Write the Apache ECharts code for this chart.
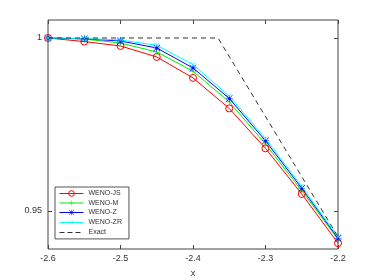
<!DOCTYPE html>
<html><head><meta charset="utf-8">
<script src="https://cdn.jsdelivr.net/npm/echarts@6/dist/echarts.min.js"></script>
<style>html,body{margin:0;padding:0;background:#fff}#c{width:374px;height:280px}</style>
</head><body><div id="c"></div>
<script>
const xs = [-2.6, -2.55, -2.5, -2.45, -2.4, -2.35, -2.3, -2.25, -2.2];
const wenoJS = [1.0, 0.99896, 0.99769, 0.99452, 0.98846, 0.97963, 0.96809, 0.9549, 0.94068];
const wenoM  = [1.0, 0.99968, 0.99856, 0.99596, 0.99039, 0.98153, 0.96933, 0.95586, 0.94178];
const wenoZ  = [1.0, 0.99977, 0.99913, 0.99711, 0.99134, 0.98252, 0.97028, 0.95655, 0.94212];
const wenoZR = [1.0, 0.99986, 0.99942, 0.99789, 0.99233, 0.98318, 0.97092, 0.95707, 0.9425];
const exactX = [-2.6, -2.3655, -2.2];
const exactY = [1.0, 1.0, 0.94258];
const xTicks = [-2.6, -2.5, -2.4, -2.3, -2.2];
const yTicks = [0.95, 1];

const pair = (a, b) => a.map((v, i) => [v, b[i]]);
const plusPath = 'path://M4.6,0H5.4V4.6H10V5.4H5.4V10H4.6V5.4H0V4.6H4.6Z';
const starPath = 'path://M4.6,0H5.4V4.6H10V5.4H5.4V10H4.6V5.4H0V4.6H4.6Z M0.6,0L10,9.4L9.4,10L0,0.6Z M9.4,0L10,0.6L0.6,10L0,9.4Z M3,3H7V7H3Z';
const dashIcon = 'path://M0,0H0.01V7H0Z M0,3H5V4H0Z M8,3H13V4H8Z M16,3H21V4H16Z M24,0H24.01V7H24Z';
const frame = '#444';
const txt = '#333';
const font = 'Liberation Sans, Arial, sans-serif';

const chart = echarts.init(document.getElementById('c'), null, {renderer: 'canvas'});
chart.setOption({
  animation: false,
  backgroundColor: '#fff',
  grid: {left: 48, right: 36, top: 20, bottom: 31, show: true, borderColor: frame, borderWidth: 1,
         backgroundColor: 'transparent', outerBoundsMode: 'none', containLabel: false},
  legend: {
    orient: 'vertical', left: 55, top: 187,
    itemWidth: 24, itemHeight: 7, itemGap: 2.5,
    padding: [3, 7, 3, 4],
    backgroundColor: '#fff', borderColor: '#555', borderWidth: 1, borderRadius: 0,
    lineStyle: {width: 1},
    itemStyle: {borderWidth: 1},
    textStyle: {fontSize: 7, color: txt, fontFamily: font},
    data: ['WENO-JS', 'WENO-M', 'WENO-Z', 'WENO-ZR', {name: 'Exact', icon: dashIcon, itemStyle: {color: '#333', borderWidth: 0}}]
  },
  xAxis: [{
    type: 'value', min: -2.6, max: -2.2, interval: 0.1, position: 'bottom',
    name: 'x', nameLocation: 'middle', nameGap: 20,
    nameTextStyle: {fontSize: 9, color: txt, fontFamily: font},
    axisLine: {show: false}, splitLine: {show: false},
    axisTick: {inside: true, length: 4, lineStyle: {color: frame}, customValues: xTicks},
    axisLabel: {fontSize: 9, color: txt, fontFamily: font, margin: 5, customValues: xTicks, formatter: v => v.toFixed(1)}
  }, {
    type: 'value', min: -2.6, max: -2.2, interval: 0.1, position: 'top',
    axisLine: {show: false}, splitLine: {show: false},
    axisTick: {inside: true, length: 4, lineStyle: {color: frame}, customValues: xTicks},
    axisLabel: {show: false}
  }],
  yAxis: [{
    type: 'value', min: 0.939, max: 1.0052, position: 'left',
    axisLine: {show: false}, splitLine: {show: false},
    axisTick: {inside: true, length: 4, lineStyle: {color: frame}, customValues: yTicks},
    axisLabel: {fontSize: 9, color: txt, fontFamily: font, margin: 6, customValues: yTicks, formatter: v => (v === 1 ? '1' : String(v))}
  }, {
    type: 'value', min: 0.939, max: 1.0052, position: 'right',
    axisLine: {show: false}, splitLine: {show: false},
    axisTick: {inside: true, length: 4, lineStyle: {color: frame}, customValues: yTicks},
    axisLabel: {show: false}
  }],
  series: [
    {name: 'WENO-JS', type: 'line', data: pair(xs, wenoJS), color: '#ff0000',
     symbol: 'circle', symbolSize: 7, lineStyle: {width: 1, color: '#ff0000'},
     itemStyle: {color: 'rgba(255,255,255,0)', borderColor: '#ff0000', borderWidth: 1}},
    {name: 'WENO-M', type: 'line', data: pair(xs, wenoM), color: '#00ee00',
     symbol: plusPath, symbolSize: 7, lineStyle: {width: 1}, itemStyle: {borderWidth: 0}},
    {name: 'WENO-Z', type: 'line', data: pair(xs, wenoZ), color: '#0000ff',
     symbol: starPath, symbolSize: 7, lineStyle: {width: 1}, itemStyle: {borderWidth: 0}},
    {name: 'WENO-ZR', type: 'line', data: pair(xs, wenoZR), color: '#00ffff',
     symbol: plusPath, symbolRotate: 45, symbolSize: 7, lineStyle: {width: 1}, itemStyle: {borderWidth: 0}},
    {name: 'Exact', type: 'line', data: pair(exactX, exactY), color: '#333',
     symbol: 'none', lineStyle: {width: 1, type: [5, 4]}}
  ]
});
</script></body></html>
